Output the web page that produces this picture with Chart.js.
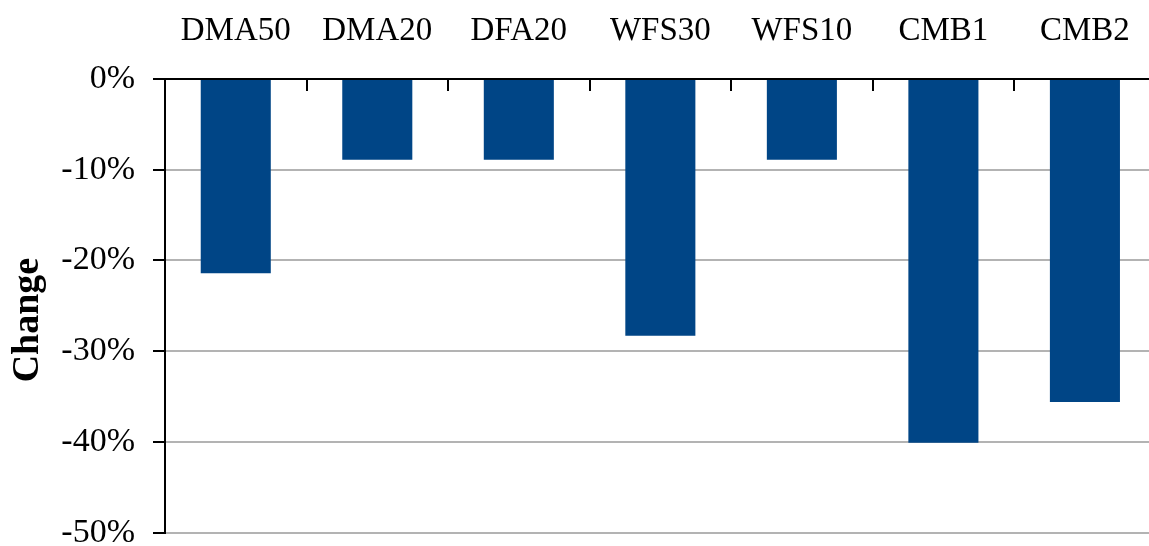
<!DOCTYPE html>
<html lang="en">
<head>
  <meta charset="UTF-8">
  <title>Change</title>
  <script src="https://cdn.jsdelivr.net/npm/chart.js"></script>
  <style>
    html, body { margin: 0; padding: 0; background: #fff; overflow: hidden; }
    canvas { display: block; }
  </style>
</head>
<body>
  <canvas id="chart" width="1158" height="571"></canvas>
  <script>
    // данные
    const categories = ['DMA50', 'DMA20', 'DFA20', 'WFS30', 'WFS10', 'CMB1', 'CMB2'];
    const changeValues = [-21.4, -8.9, -8.9, -28.3, -8.9, -40.1, -35.6];
    const yTicks = [0, -10, -20, -30, -40, -50];

    const serif = '"Liberation Serif", "DejaVu Serif", serif';

    // короткие засечки между категориями, внутрь области графика
    const innerTicks = {
      id: 'innerTicks',
      afterDraw(chart) {
        const x = chart.scales.x, ctx = chart.ctx, top = chart.chartArea.top;
        const half = (x.getPixelForValue(1) - x.getPixelForValue(0)) / 2;
        ctx.save();
        ctx.strokeStyle = '#000';
        ctx.lineWidth = 2;
        for (let i = 1; i < categories.length; i++) {
          const px = Math.round(x.getPixelForValue(i) - half);
          ctx.beginPath();
          ctx.moveTo(px, top);
          ctx.lineTo(px, top + 12);
          ctx.stroke();
        }
        ctx.restore();
      }
    };

    new Chart(document.getElementById('chart'), {
      type: 'bar',
      data: {
        labels: categories,
        datasets: [{
          label: 'Change',
          data: changeValues,
          backgroundColor: '#004586',
          borderWidth: 0,
          categoryPercentage: 1,
          barPercentage: 0.495
        }]
      },
      options: {
        responsive: false,
        animation: false,
        layout: { padding: { left: 0, right: 2, top: 0, bottom: 0 } },
        plugins: { legend: { display: false }, tooltip: { enabled: false } },
        scales: {
          x: {
            position: 'top',
            grid: { display: false, drawTicks: false },
            border: { display: true, color: '#000', width: 2 },
            ticks: {
              color: '#000',
              padding: 28,
              font: { family: serif, size: 33 }
            },
            afterFit(scale) { scale.height = 79; }
          },
          y: {
            min: -50,
            max: 0,
            afterBuildTicks(scale) { scale.ticks = yTicks.map(v => ({ value: v })); },
            grid: { color: '#b3b3b3', lineWidth: 2, tickColor: '#000', tickLength: 12 },
            border: { display: true, color: '#000', width: 2 },
            ticks: {
              color: '#000',
              padding: 18,
              font: { family: serif, size: 34 },
              callback: v => v + '%'
            },
            title: {
              display: true,
              text: 'Change   ',
              color: '#000',
              padding: { top: 5, bottom: 0 },
              font: { family: serif, size: 38, weight: 'bold' }
            },
            afterFit(scale) { scale.width = 165; }
          }
        }
      },
      plugins: [innerTicks]
    });
  </script>
</body>
</html>
